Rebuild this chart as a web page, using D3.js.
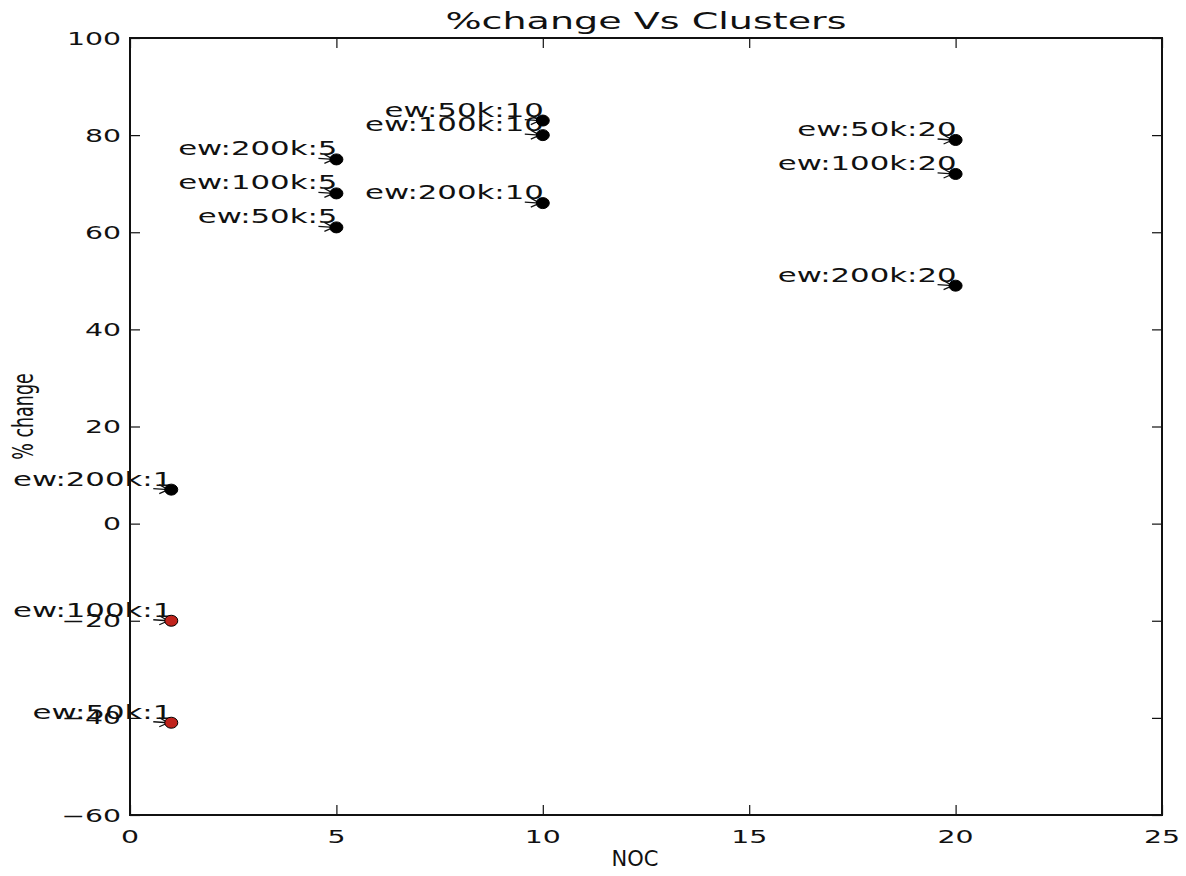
<!DOCTYPE html>
<html>
<head>
<meta charset="utf-8">
<script src="https://cdn.jsdelivr.net/npm/d3@7"></script>
<style>
  html, body { margin: 0; padding: 0; background: #fff; }
  svg { display: block; }
  text { font-family: "DejaVu Sans", sans-serif; fill: #111; }
</style>
</head>
<body>
<svg id="chart" width="1186" height="876"></svg>
<script>
// Cluster runs: number of clusters, percentage change and run label
const noc = [1, 1, 1, 5, 5, 5, 10, 10, 10, 20, 20, 20];
const pctChange = [7, -20, -41, 75, 68, 61, 83, 80, 66, 79, 72, 49];
const runLabels = [
  "ew:200k:1", "ew:100k:1", "ew:50k:1",
  "ew:200k:5", "ew:100k:5", "ew:50k:5",
  "ew:50k:10", "ew:100k:10", "ew:200k:10",
  "ew:50k:20", "ew:100k:20", "ew:200k:20"
];
const xTicks = [0, 5, 10, 15, 20, 25];
const yTicks = [-60, -40, -20, 0, 20, 40, 60, 80, 100];

const W = 1186, H = 876;
const margin = { top: 38, right: 24, bottom: 61, left: 130 };
const SX = 1.62; // horizontal stretch of the lettering

const svg = d3.select("#chart");
const x = d3.scaleLinear().domain([0, 25]).range([margin.left, W - margin.right]);
const y = d3.scaleLinear().domain([-60, 100]).range([H - margin.bottom, margin.top]);

// text helper: position at (px, py) and widen horizontally
function label(g, px, py, str, size, anchor, sx = SX) {
  return g.append("text")
    .attr("transform", `translate(${px},${py}) scale(${sx},1)`)
    .attr("text-anchor", anchor)
    .attr("font-size", size)
    .text(str);
}

// axes via d3 axis generators, ticks pointing inward
const tickLen = 10;
const gx = svg.append("g").attr("transform", `translate(0,${y(-60)})`)
  .call(d3.axisBottom(x).tickValues(xTicks).tickSizeInner(-tickLen).tickSizeOuter(0).tickFormat(""));
const gxTop = svg.append("g").attr("transform", `translate(0,${y(100)})`)
  .call(d3.axisTop(x).tickValues(xTicks).tickSizeInner(-tickLen).tickSizeOuter(0).tickFormat(""));
const gy = svg.append("g").attr("transform", `translate(${x(0)},0)`)
  .call(d3.axisLeft(y).tickValues(yTicks).tickSizeInner(-tickLen).tickSizeOuter(0).tickFormat(""));
const gyRight = svg.append("g").attr("transform", `translate(${x(25)},0)`)
  .call(d3.axisRight(y).tickValues(yTicks).tickSizeInner(-tickLen).tickSizeOuter(0).tickFormat(""));
[gx, gxTop, gy, gyRight].forEach(g => {
  g.select(".domain").remove();
  g.selectAll(".tick line").attr("stroke", "#111").attr("stroke-width", 1.2);
});

// frame
svg.append("rect")
  .attr("x", x(0)).attr("y", y(100))
  .attr("width", x(25) - x(0)).attr("height", y(-60) - y(100))
  .attr("fill", "none").attr("stroke", "#111").attr("stroke-width", 2);

// tick labels
const fmt = v => (v < 0 ? "\u2212" + Math.abs(v) : String(v));
const tickFont = 17.5;
xTicks.forEach(v => label(svg, x(v), y(-60) + 28, fmt(v), tickFont, "middle"));
yTicks.forEach(v => label(svg, x(0) - 9, y(v) + 6.5, fmt(v), tickFont, "end"));

// title and axis titles
label(svg, (x(0) + x(25)) / 2, 29, "%change Vs Clusters", 23.5, "middle");
label(svg, 635, 866, "NOC", 21, "middle", 1.0);
svg.append("text")
  .attr("transform", `translate(33,${(y(100) + y(-60)) / 2 - 10}) scale(${SX},1) rotate(-90)`)
  .attr("text-anchor", "middle")
  .attr("font-size", 17.5)
  .text("% change");

// annotation arrows and labels
const annFont = 19;
const ann = svg.append("g");
noc.forEach((n, i) => {
  const px = x(n), py = y(pctChange[i]);
  const sx0 = px - 18, sy0 = py - 1, tx = px - 3, ty = py;
  ann.append("line").attr("x1", sx0).attr("y1", sy0).attr("x2", tx).attr("y2", ty)
    .attr("stroke", "#111").attr("stroke-width", 1.3);
  ann.append("path")
    .attr("d", `M${tx - 9},${ty - 5} L${tx},${ty} L${tx - 9},${ty + 4}`)
    .attr("fill", "none").attr("stroke", "#111").attr("stroke-width", 1.3);
  label(ann, px + 1, py - 4, runLabels[i], annFont, "end");
});

// scatter points
svg.append("g").selectAll("ellipse")
  .data(noc.map((n, i) => ({ n, v: pctChange[i] })))
  .join("ellipse")
  .attr("cx", d => x(d.n))
  .attr("cy", d => y(d.v))
  .attr("rx", 6.5)
  .attr("ry", 5.5)
  .attr("fill", d => (d.v < 0 ? "#c0231c" : "#000"))
  .attr("stroke", "#000")
  .attr("stroke-width", 1);
</script>
</body>
</html>
